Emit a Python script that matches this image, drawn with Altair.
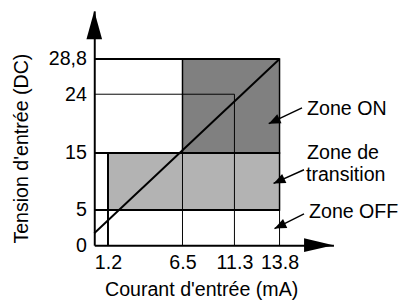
import altair as alt
import pandas as pd

# ---- data ----
x_ticks = [1.2, 6.5, 11.3, 13.8]
x_tick_labels = ["1.2", "6.5", "11.3", "13.8"]
y_ticks = [0, 5, 15, 24, 28.8]
y_tick_labels = ["0", "5", "15", "24", "28,8"]
x_end = 16.8
y_end = 35

x_title = "Courant d'entrée (mA)"
y_title = "Tension d'entrée (DC)"

zone_names = ["Zone ON", "Zone de transition"]
zone_x = [6.5, 1.2]
zone_x2 = [13.8, 13.8]
zone_y = [15, 5]
zone_y2 = [28.8, 15]

# grid segments (x, x2, y, y2)
thick_x = [0, 0, 0, 1.2]
thick_x2 = [13.8, 13.8, 13.8, 1.2]
thick_y = [28.8, 15, 5, 0]
thick_y2 = [28.8, 15, 5, 15]

thin_x = [0, 11.3, 6.5, 13.8]
thin_x2 = [11.3, 11.3, 6.5, 13.8]
thin_y = [24, 0, 0, 0]
thin_y2 = [24, 24, 15, 15]

line_x = [0, 13.8]
line_y = [1.7, 28.8]

ann_text = ["Zone ON", "Zone de", "transition", "Zone OFF"]
ann_x = [15.33, 15.33, 15.27, 15.44]
ann_y = [20.85, 13.97, 10.0, 3.89]

arrow_from_x = [15.05, 15.16, 15.16]
arrow_from_y = [21.9, 12.07, 4.44]
arrow_to_x = [13.2, 13.47, 13.52]
arrow_to_y = [19.5, 9.66, 2.36]

# ---- tables ----
zones = pd.DataFrame({"zone": zone_names, "x": zone_x, "x2": zone_x2, "y": zone_y, "y2": zone_y2})
thick = pd.DataFrame({"x": thick_x, "x2": thick_x2, "y": thick_y, "y2": thick_y2})
thin = pd.DataFrame({"x": thin_x, "x2": thin_x2, "y": thin_y, "y2": thin_y2})
diag = pd.DataFrame({"x": line_x, "y": line_y})
ann = pd.DataFrame({"t": ann_text, "x": ann_x, "y": ann_y})
arrows = pd.DataFrame({"x": arrow_from_x, "y": arrow_from_y, "x2": arrow_to_x, "y2": arrow_to_y})
heads = pd.DataFrame({"x": arrow_to_x, "y": arrow_to_y})
xhead = pd.DataFrame({"x": [x_end], "y": [0]})
yhead = pd.DataFrame({"x": [0], "y": [y_end]})

FONT = "Liberation Sans"
FS = 20

xs = alt.Scale(domain=[0] + x_ticks + [x_end], range=[0, 14, 90, 143, 189, 244], nice=False, zero=False)
ys = alt.Scale(domain=y_ticks + [y_end], range=[239, 203, 145, 85, 49, 0], nice=False, zero=False)

y_expr = " : ".join(f"datum.value == {v} ? '{l}'" for v, l in zip(y_ticks, y_tick_labels)) + " : ''"
x_expr = " : ".join(f"datum.value == {v} ? '{l}'" for v, l in zip(x_ticks, x_tick_labels)) + " : ''"

x_axis = alt.Axis(values=x_ticks, labelExpr=x_expr, grid=False, ticks=False, tickSize=0,
                  domain=True, domainColor="black", domainWidth=2,
                  labelFont=FONT, labelFontSize=FS, labelColor="black", labelPadding=8,
                  labelFlush=False, labelOverlap=False,
                  title=x_title, titleFont=FONT, titleFontSize=FS, titleFontWeight="normal",
                  titleColor="black", titleX=109, titleY=51, titleAlign="center",
                  titleBaseline="alphabetic", titleAnchor="start")
y_axis = alt.Axis(values=y_ticks, labelExpr=y_expr, grid=False, ticks=False, tickSize=0,
                  domain=True, domainColor="black", domainWidth=2,
                  labelFont=FONT, labelFontSize=FS, labelColor="black", labelPadding=8,
                  labelFlush=False, labelOverlap=False,
                  title=y_title, titleFont=FONT, titleFontSize=FS, titleFontWeight="normal",
                  titleColor="black", titleX=-74, titleY=140, titleAlign="center",
                  titleBaseline="middle", titleAngle=270, titleAnchor="start")


def X(f="x"):
    return alt.X(f"{f}:Q", scale=xs, axis=x_axis)


def Y(f="y"):
    return alt.Y(f"{f}:Q", scale=ys, axis=y_axis)


zone_layer = alt.Chart(zones).mark_rect(stroke="black", strokeWidth=1.5).encode(
    x=X(), x2="x2:Q", y=Y(), y2="y2:Q",
    color=alt.Color("zone:N", scale=alt.Scale(domain=zone_names, range=["#808080", "#b3b3b3"]), legend=None),
)

thin_layer = alt.Chart(thin).mark_rule(color="black", strokeWidth=1).encode(
    x=X(), x2="x2:Q", y=Y(), y2="y2:Q")
thick_layer = alt.Chart(thick).mark_rule(color="black", strokeWidth=2).encode(
    x=X(), x2="x2:Q", y=Y(), y2="y2:Q")

diag_layer = alt.Chart(diag).mark_line(color="black", strokeWidth=2).encode(x=X(), y=Y())

ann_layer = alt.Chart(ann).mark_text(font=FONT, fontSize=FS, align="left", baseline="alphabetic",
                                     color="black").encode(x=X(), y=Y(), text="t:N")

arrow_layer = alt.Chart(arrows).mark_rule(color="black", strokeWidth=1.5).encode(
    x=X(), x2="x2:Q", y=Y(), y2="y2:Q")

small_head = "M0,0 L-2,-0.85 L-2,0.85 Z"
head_layer = alt.Chart(heads).mark_point(shape=small_head, size=144, angle=155, filled=True,
                                         opacity=1, color="black", strokeWidth=0).encode(x=X(), y=Y())

big_head_x = "M0,0 L-2,-0.47 L-2,0.47 Z"
big_head_y = "M0,0 L-2,-0.55 L-2,0.55 Z"
xhead_layer = alt.Chart(xhead).mark_point(shape=big_head_x, size=900, filled=True, opacity=1,
                                          color="black", strokeWidth=0).encode(x=X(), y=Y())
yhead_layer = alt.Chart(yhead).mark_point(shape=big_head_y, size=841, angle=270, filled=True, opacity=1,
                                          color="black", strokeWidth=0).encode(x=X(), y=Y())

chart = alt.layer(
    zone_layer, thin_layer, thick_layer, diag_layer, arrow_layer, head_layer,
    ann_layer, xhead_layer, yhead_layer,
).properties(
    width=244, height=239,
    autosize=alt.AutoSizeParams(type="none"),
    padding={"left": 88, "top": 0, "right": 74, "bottom": 56},
).configure_view(strokeOpacity=0)

chart.save("out.html", embed_options={"renderer": "svg", "actions": False})
